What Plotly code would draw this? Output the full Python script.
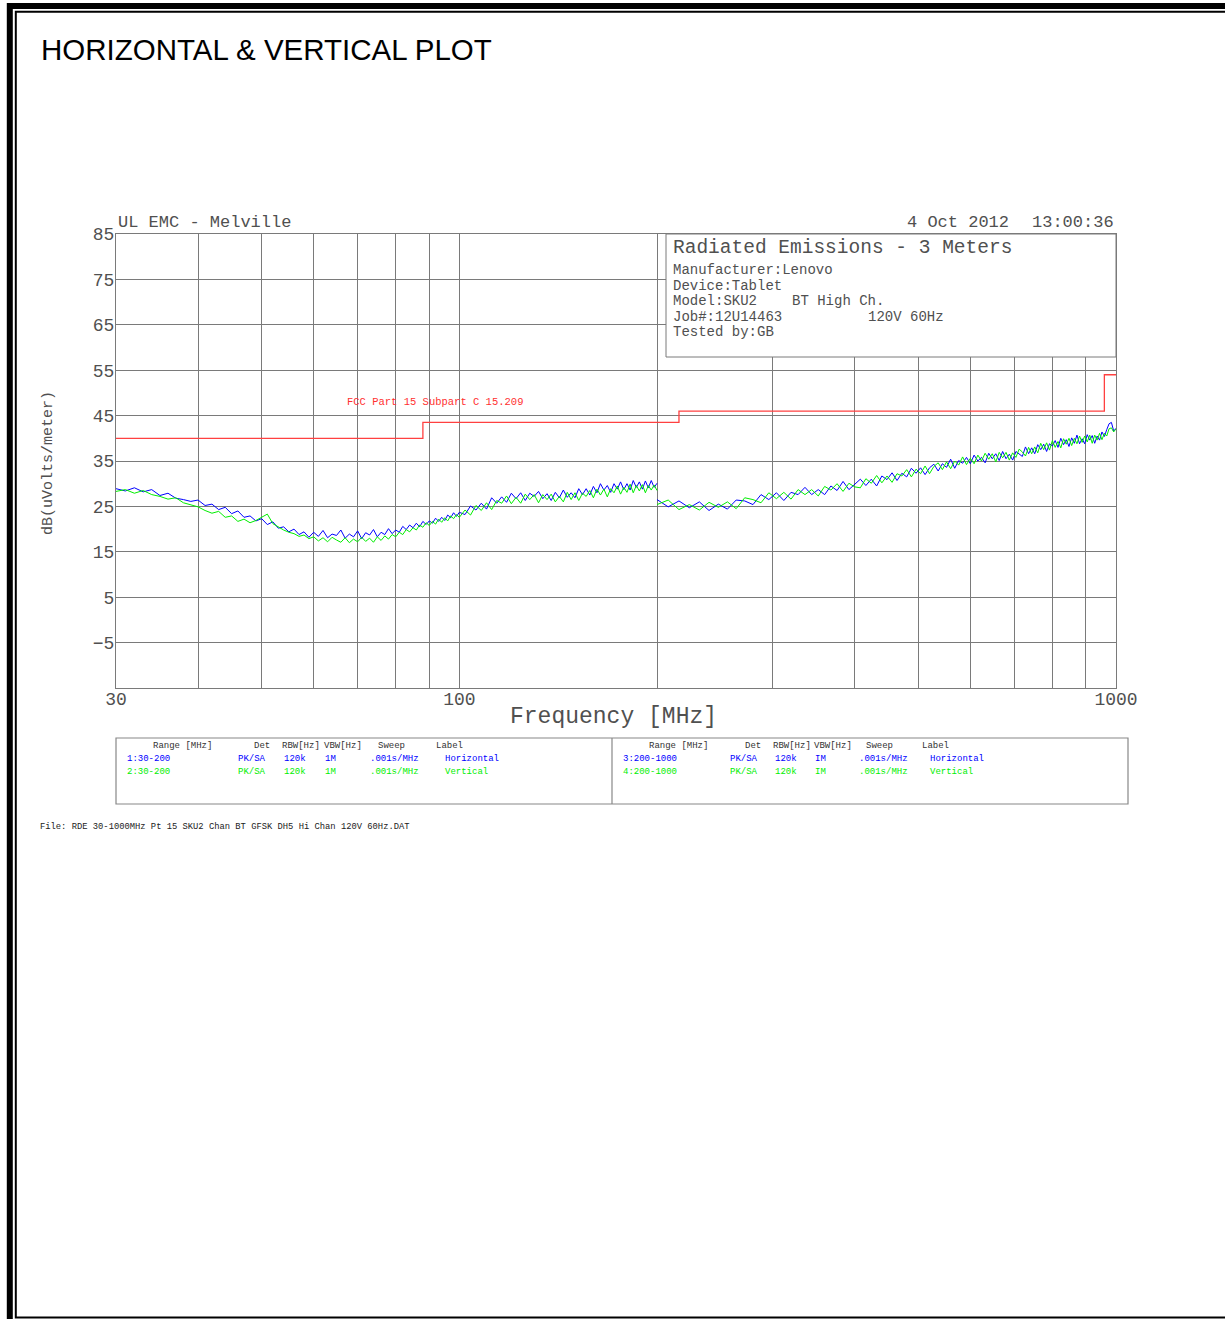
import math
import plotly.graph_objects as go

# ---------------- data ----------------
F_LO = [30, 31, 32, 33, 34, 35, 36, 37, 38, 39,
        40, 41, 42, 43, 44, 45, 46, 47, 48, 49,
        50, 51, 52, 53, 54, 55, 56, 57, 58, 59,
        60, 61, 62, 63, 64, 65, 66, 67, 68, 69,
        70, 71, 72, 73, 74, 75, 76, 77, 78, 79,
        80, 81, 82, 83, 84, 85, 86, 87, 88, 89,
        90, 91, 92, 93, 94, 95, 96, 97, 98, 99,
        100, 102, 104, 106, 108, 110, 112, 114, 116, 118,
        120, 122, 124, 126, 128, 130, 132, 134, 136, 138,
        140, 142, 144, 146, 148, 150, 152, 154, 156, 158,
        160, 162, 164, 166, 168, 170, 172, 174, 176, 178,
        180, 182, 184, 186, 188, 190, 192, 194, 196, 198,
        200]

H_LO = [28.9, 28.4, 29.1, 28.2, 28.7, 27.4, 27.9, 26.8, 26.5, 26.1,
        26.4, 25.2, 25.5, 24.3, 24.8, 23.4, 24.0, 22.6, 22.9, 21.8,
        22.3, 21.0, 21.6, 20.2, 20.5, 19.4, 20.0, 18.8, 19.4, 18.2,
        19.3, 18.4, 19.7, 18.1, 18.9, 18.6, 19.8, 18.0, 18.9, 18.3,
        19.6, 17.9, 19.2, 18.7, 19.9, 18.3, 19.3, 18.8, 20.1, 19.0,
        19.8, 19.3, 20.6, 19.9, 20.9, 20.3, 21.3, 20.5, 21.7, 21.0,
        21.8, 21.3, 22.4, 21.7, 22.6, 21.9, 23.1, 22.5, 23.6, 22.8,
        23.7, 23.2, 25.1, 24.2, 25.7, 24.4, 26.9, 25.7, 27.1, 25.9,
        27.9, 26.7, 28.0, 26.3, 27.9, 27.2, 28.3, 26.7, 27.8, 26.3,
        28.1, 26.9, 28.6, 27.0, 28.0, 26.9, 28.9, 27.6, 28.9, 27.5,
        29.4, 28.0, 30.0, 28.6, 29.6, 28.1, 30.0, 28.8, 30.4, 28.7,
        30.0, 28.6, 30.7, 29.2, 30.4, 28.8, 30.6, 29.1, 30.7, 29.2,
        30.1]

V_LO = [28.3, 28.7, 27.9, 28.5, 27.6, 27.2, 26.6, 26.9, 25.8, 25.3,
        24.9, 24.1, 23.5, 23.9, 22.6, 22.9, 21.7, 22.2, 21.4, 21.9,
        22.6, 23.3, 21.2, 20.4, 19.8, 19.3, 19.0, 18.4, 18.7, 17.9,
        18.3, 17.4, 18.1, 17.2, 18.2, 17.6, 17.1, 18.1, 17.0, 17.8,
        17.2, 18.2, 17.3, 18.0, 17.1, 18.3, 17.5, 18.5, 17.8, 18.8,
        18.3, 19.3, 18.8, 19.9, 19.4, 20.3, 19.8, 20.9, 20.4, 21.4,
        20.8, 21.7, 21.1, 22.2, 21.5, 22.5, 21.8, 22.9, 22.3, 23.2,
        22.6, 24.2, 23.1, 25.2, 24.1, 25.8, 24.3, 26.3, 25.7, 27.3,
        25.6, 27.0, 25.7, 27.7, 26.5, 27.6, 25.8, 27.6, 26.5, 27.7,
        26.0, 27.2, 26.0, 28.1, 26.5, 28.0, 26.3, 27.9, 27.2, 28.5,
        26.9, 28.8, 27.5, 28.8, 27.1, 28.9, 28.0, 29.5, 27.7, 29.2,
        28.1, 29.9, 28.0, 29.6, 28.4, 29.8, 28.0, 29.6, 28.6, 29.7,
        28.5]

F_HI = [200, 208, 216, 224, 232, 240, 248, 256, 264, 272,
        280, 288, 296, 304, 312, 320, 328, 336, 344, 352,
        360, 368, 376, 384, 392, 400, 408, 416, 424, 432,
        440, 448, 456, 464, 472, 480, 488, 496, 504, 512,
        520, 528, 536, 544, 552, 560, 568, 576, 584, 592,
        600, 608, 616, 624, 632, 640, 648, 656, 664, 672,
        680, 688, 696, 704, 712, 720, 728, 736, 744, 752,
        760, 768, 776, 784, 792, 800, 808, 816, 824, 832,
        840, 848, 856, 864, 872, 880, 888, 896, 904, 912,
        920, 928, 936, 944, 952, 960, 968, 976, 984, 992,
        1000]

H_HI = [26.5, 24.9, 26.2, 24.7, 26.0, 24.1, 25.5, 24.4, 26.4, 26.2,
        25.4, 27.6, 26.5, 28.0, 26.3, 28.1, 27.6, 29.2, 27.6, 28.7,
        27.6, 29.5, 28.5, 30.5, 28.7, 29.9, 31.0, 29.6, 31.0, 29.5,
        31.7, 30.9, 32.4, 30.7, 32.3, 31.5, 33.4, 32.3, 33.5, 32.0,
        33.5, 34.3, 32.8, 34.4, 33.6, 35.4, 33.4, 35.1, 34.5, 35.8,
        34.4, 36.3, 35.0, 35.8, 34.6, 36.7, 35.5, 36.6, 35.1, 37.1,
        35.5, 36.5, 35.2, 37.1, 36.6, 36.0, 38.1, 36.6, 37.9, 36.6,
        38.6, 37.5, 38.7, 37.1, 38.8, 38.3, 39.5, 38.0, 40.0, 38.6,
        39.7, 38.2, 40.1, 38.9, 40.7, 38.8, 39.9, 38.8, 40.8, 39.6,
        40.6, 38.9, 40.5, 39.6, 41.4, 40.4, 41.9, 43.2, 43.5, 41.6,
        42.2]

V_HI = [25.4, 26.4, 24.3, 25.4, 24.2, 25.9, 24.8, 26.0, 24.5, 26.9,
        26.5, 25.8, 28.0, 26.7, 28.1, 26.6, 28.7, 27.6, 28.7, 27.3,
        29.4, 28.6, 30.0, 28.3, 30.1, 29.3, 29.1, 31.1, 30.1, 31.8,
        30.2, 31.7, 30.3, 32.2, 31.7, 33.1, 31.5, 33.2, 32.2, 33.9,
        32.2, 33.8, 34.6, 33.1, 34.8, 33.3, 35.0, 34.1, 35.9, 34.2,
        35.6, 34.4, 36.3, 35.0, 36.7, 35.4, 36.6, 34.8, 36.9, 35.7,
        36.9, 35.2, 36.8, 35.8, 37.6, 37.0, 36.1, 38.0, 36.6, 38.1,
        36.8, 38.9, 37.5, 39.0, 37.4, 39.5, 38.0, 39.3, 37.9, 39.9,
        38.7, 40.0, 38.4, 40.0, 38.8, 40.5, 39.1, 40.5, 39.2, 40.7,
        38.9, 40.7, 39.6, 41.1, 39.7, 41.1, 40.5, 42.1, 42.3, 41.4,
        42.1]

LIMIT_F = [30, 88, 216, 960, 1000]
LIMIT_DB = [40, 43.5, 46, 54, 54]
LIMIT_LABEL = "FCC Part 15 Subpart C 15.209"

X_GRID = [30, 40, 50, 60, 70, 80, 90, 100, 200, 300, 400, 500, 600, 700, 800, 900, 1000]
X_LABELS = ["30", "", "", "", "", "", "", "100", "", "", "", "", "", "", "", "", "1000"]
Y_GRID = [-15, -5, 5, 15, 25, 35, 45, 55, 65, 75, 85]
Y_LABELS = ["", "\u22125", "5", "15", "25", "35", "45", "55", "65", "75", "85"]

PAGE_TITLE = "HORIZONTAL & VERTICAL PLOT"
LAB_NAME = "UL EMC - Melville"
DATE_TEXT = "4 Oct 2012"
TIME_TEXT = "13:00:36"
INFO_TITLE = "Radiated Emissions - 3 Meters"
INFO_LINES = ["Manufacturer:Lenovo", "Device:Tablet", "Model:SKU2", "Job#:12U14463", "Tested by:GB"]
INFO_EXTRA = ["BT High Ch.", "120V 60Hz"]
X_TITLE = "Frequency [MHz]"
Y_TITLE = "dB(uVolts/meter)"
TABLE_HEAD = ["Range [MHz]", "Det", "RBW[Hz]", "VBW[Hz]", "Sweep", "Label"]
TABLE_LEFT = [["1:30-200", "PK/SA", "120k", "1M", ".001s/MHz", "Horizontal"],
              ["2:30-200", "PK/SA", "120k", "1M", ".001s/MHz", "Vertical"]]
TABLE_RIGHT = [["3:200-1000", "PK/SA", "120k", "IM", ".001s/MHz", "Horizontal"],
               ["4:200-1000", "PK/SA", "120k", "IM", ".001s/MHz", "Vertical"]]
FILE_TEXT = "File: RDE 30-1000MHz Pt 15 SKU2 Chan BT GFSK DH5 Hi Chan 120V 60Hz.DAT"

# ---------------- layout helpers (pixel -> paper) ----------------
W, H = 1225, 1319
PL, PR, PT, PB = 116, 1116, 234, 688


def px(x):
    return (x - PL) / (PR - PL)


def py(y):
    return (PB - y) / (PB - PT)


BLUE = "#0000ff"
GREEN = "#00ee00"
GRID = "#7a7a7a"
TXT = "#505050"
MONO = "Liberation Mono"

fig = go.Figure()
fig.add_trace(go.Scatter(x=LIMIT_F, y=LIMIT_DB, mode="lines", line_shape="hv",
                         line=dict(color="#ff4040", width=1.3), hoverinfo="skip"))
fig.add_trace(go.Scatter(x=F_LO, y=H_LO, mode="lines", line=dict(color=BLUE, width=1)))
fig.add_trace(go.Scatter(x=F_LO, y=V_LO, mode="lines", line=dict(color=GREEN, width=1)))
fig.add_trace(go.Scatter(x=F_HI, y=H_HI, mode="lines", line=dict(color=BLUE, width=1)))
fig.add_trace(go.Scatter(x=F_HI, y=V_HI, mode="lines", line=dict(color=GREEN, width=1)))

ann = []


def text(x, y, s, size, color=TXT, xa="left", ya="middle", family=MONO, angle=0):
    ann.append(dict(x=px(x), y=py(y), xref="paper", yref="paper", text=s, showarrow=False,
                    xanchor=xa, yanchor=ya, textangle=angle,
                    font=dict(family=family, size=size, color=color)))


text(39, 49, PAGE_TITLE, 29.5, "#000000", family="Liberation Sans")
text(116, 222, LAB_NAME, 17)
text(905, 222, DATE_TEXT, 17)
text(1116, 222, TIME_TEXT, 17, xa="right")
text(671, 248, INFO_TITLE, 19.5)
for i, s in enumerate(INFO_LINES):
    text(671, 270 + i * 15.5, s, 14)
text(790, 270 + 2 * 15.5, INFO_EXTRA[0], 14)
text(866, 270 + 3 * 15.5, INFO_EXTRA[1], 14)
text(345, 402, LIMIT_LABEL, 10.5, "#ff3030")
text(613, 717, X_TITLE, 23, xa="center")
text(48, 463, Y_TITLE, 15, xa="center", angle=-90)

head_x_l = [151, 252, 280, 322, 376, 434]
row_x_l = [125, 236, 282, 323, 368, 443]
head_x_r = [647, 743, 771, 812, 864, 920]
row_x_r = [621, 728, 773, 813, 857, 928]
row_col = [BLUE, GREEN]
for hx, s in zip(head_x_l, TABLE_HEAD):
    text(hx, 746, s, 9, "#333333")
for hx, s in zip(head_x_r, TABLE_HEAD):
    text(hx, 746, s, 9, "#333333")
for r, row in enumerate(TABLE_LEFT):
    for rx, s in zip(row_x_l, row):
        text(rx, 759 + r * 12.5, s, 9, row_col[r])
for r, row in enumerate(TABLE_RIGHT):
    for rx, s in zip(row_x_r, row):
        text(rx, 759 + r * 12.5, s, 9, row_col[r])
text(38, 827, FILE_TEXT, 8.8, "#222222")

shapes = [
    # info box over the grid
    dict(type="rect", xref="paper", yref="paper", x0=px(666), x1=px(1116), y0=py(357), y1=py(234),
         fillcolor="white", line=dict(color=GRID, width=1), layer="above"),
    # parameter table
    dict(type="rect", xref="paper", yref="paper", x0=px(116), x1=px(1128), y0=py(804), y1=py(738),
         line=dict(color="#888888", width=1.2)),
    dict(type="line", xref="paper", yref="paper", x0=px(612), x1=px(612), y0=py(804), y1=py(738),
         line=dict(color="#888888", width=1.2)),
    # page border (double)
    dict(type="rect", xref="paper", yref="paper", x0=px(9.8), x1=px(1300), y0=py(1400), y1=py(6),
         line=dict(color="black", width=6)),
    dict(type="rect", xref="paper", yref="paper", x0=px(15.8), x1=px(1260), y0=py(1317.5), y1=py(11.8),
         line=dict(color="black", width=2)),
]

axis_common = dict(showgrid=True, gridcolor=GRID, gridwidth=1, showline=True, linecolor=GRID,
                   linewidth=1, mirror=True, ticks="", zeroline=False,
                   tickfont=dict(family=MONO, size=18, color=TXT))

fig.update_layout(
    width=W, height=H, autosize=False,
    margin=dict(l=PL, r=W - PR, t=PT, b=H - PB, pad=0),
    paper_bgcolor="white", plot_bgcolor="white", showlegend=False,
    xaxis=dict(type="log", range=[math.log10(30), math.log10(1000)], tickmode="array",
               tickvals=X_GRID, ticktext=X_LABELS, ticklabelstandoff=-6, **axis_common),
    yaxis=dict(range=[-15, 85], tickmode="array", tickvals=Y_GRID, ticktext=Y_LABELS,
               ticklabelstandoff=-3, **axis_common),
    annotations=ann, shapes=shapes,
)

fig.write_html("out.html", config={"displayModeBar": False},
               post_script="document.body.style.margin='0';document.body.style.overflow='hidden';")
